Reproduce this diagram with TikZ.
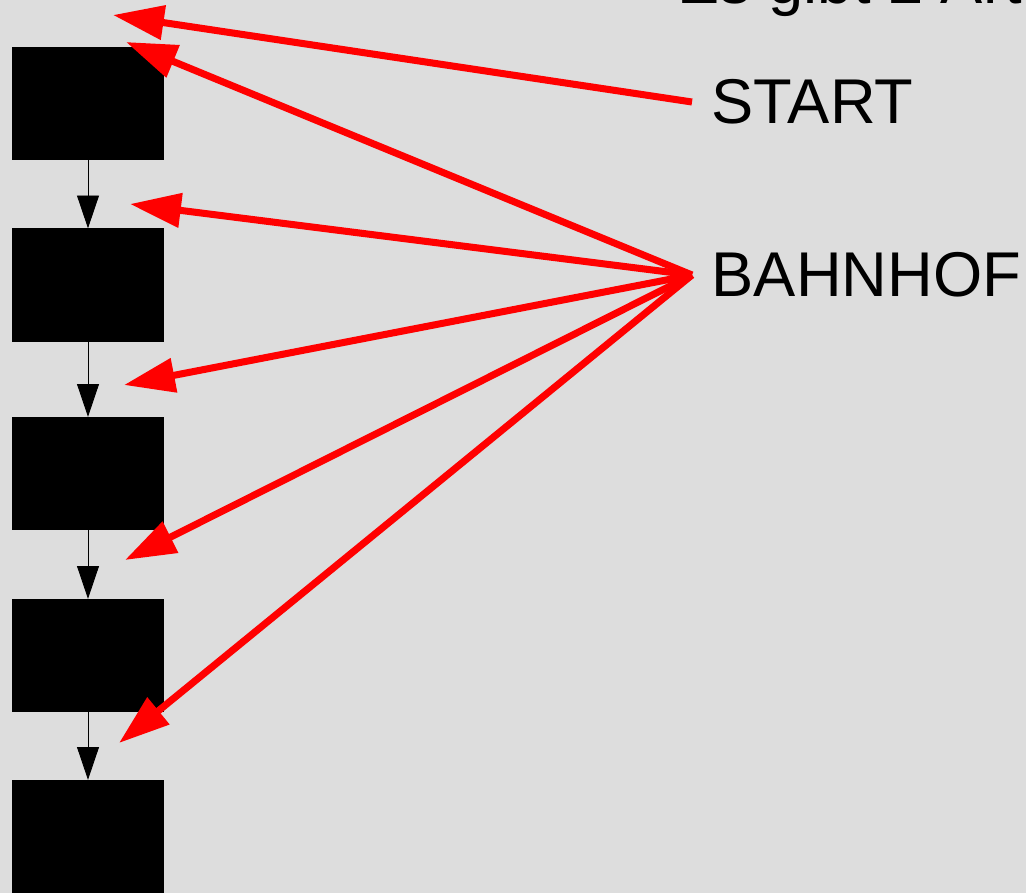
\documentclass[tikz,border=0pt]{standalone}
\usepackage{fontspec}
\setmainfont{Liberation Sans}
\usetikzlibrary{arrows.meta,positioning,calc}
\definecolor{hintergrund}{HTML}{DDDDDD}
\definecolor{rot}{HTML}{FF0000}
\tikzset{
  kasten/.style={fill=black, draw=black, minimum width=151*0.567pt, minimum height=113*0.567pt, inner sep=0pt},
  folge/.style={-{Triangle[length=18.7pt, width=12.5pt]}, line width=0.5pt},
  zeiger/.style={-{Triangle[length=29pt, width=19pt]}, rot, line width=4pt},
  schrift/.style={font=\fontsize{36}{43}\selectfont, inner sep=11pt}
}
\begin{document}
\begin{tikzpicture}[x=0.02cm, y=-0.02cm]
                    \fill[hintergrund] (0,0) rectangle (1026,893);
                    \useasboundingbox (0,0) rectangle (1026,893);
                    % Liste
                    \foreach \i/\y in {1/103.5,2/285,3/473.5,4/655.5,5/836.5}{
                        \node[kasten] (b\i) at (88,\y) {};
                    }
                    \foreach \i [evaluate=\i as \j using int(\i+1)] in {1,...,4}{
                        \draw[folge] (b\i.south) -- (b\j.north);
                    }
                    % Texte
                    \node[schrift, anchor=base west, inner sep=0pt] (titel) at (677,3) {Es gibt 2 Arten};
                    \node[schrift, anchor=west] (start) at (692,102) {START};
                    \node[schrift, anchor=west] (bahnhof) at (692,275) {BAHNHOF};
                    % Zeiger
                    \coordinate (z0) at (113,15);
                    \coordinate (z1) at (126,42);
                    \coordinate (z2) at (130,204);
                    \coordinate (z3) at (124,385);
                    \coordinate (z4) at (125,560);
                    \coordinate (z5) at (119,743);
                    \draw[zeiger] (start.west) -- (z0);
                    \foreach \k in {1,...,5}{
                        \draw[zeiger] (bahnhof.west) -- (z\k);
                    }
                \end{tikzpicture}
\end{document}
